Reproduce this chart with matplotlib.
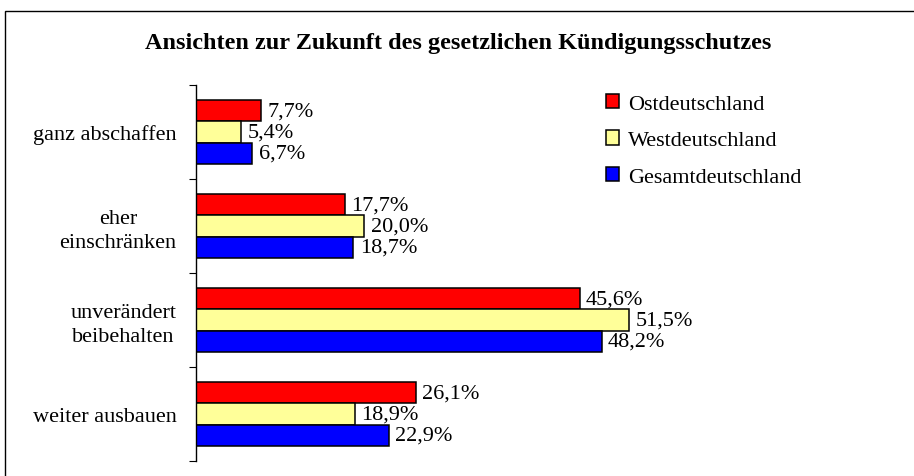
import matplotlib.pyplot as plt
import numpy as np
from matplotlib.patches import Rectangle

plt.rcParams['font.family'] = ['Liberation Serif', 'DejaVu Serif']

# Daten
kategorien = ["ganz abschaffen", "eher\neinschränken", "unverändert\nbeibehalten", "weiter ausbauen"]
ost = [7.7, 17.7, 45.6, 26.1]
west = [5.4, 20.0, 51.5, 18.9]
gesamt = [6.7, 18.7, 48.2, 22.9]
serien = ["Ostdeutschland", "Westdeutschland", "Gesamtdeutschland"]
farben = ["#FF0000", "#FFFF99", "#0000FF"]

fig = plt.figure(figsize=(9.14, 4.77), dpi=100)
ax = fig.add_axes([196/914, 1-462/477, 505/914, 376/477])

# Rahmen um die Grafik
fig.patches.append(Rectangle((5/914, -0.1), 2.0, 1.1 - 12/477, transform=fig.transFigure,
                             fill=False, edgecolor='black', linewidth=1.0, zorder=0))

y = np.arange(len(kategorien))
h = 0.226
for i, (werte, name, farbe) in enumerate(zip([ost, west, gesamt], serien, farben)):
    pos = y + (i - 1) * h
    bars = ax.barh(pos, werte, height=h, color=farbe, edgecolor='black', linewidth=1.1, label=name)
    for b, v in zip(bars, werte):
        ax.annotate(f"{v:.1f}%".replace('.', ','), (b.get_width(), b.get_y() + h/2),
                    xytext=(4.5, 0), textcoords='offset points', ha='left', va='center', fontsize=16)

ax.set_xlim(0, 60)
ax.set_ylim(3.5, -0.5)
for s in ['top', 'right', 'bottom']:
    ax.spines[s].set_visible(False)
ax.spines['left'].set_linewidth(1.0)
ax.set_xticks([])
ax.set_yticks(np.arange(-0.5, 4, 1))
ax.set_yticklabels([])
ax.tick_params(axis='y', which='major', length=5, direction='out')
ax.set_yticks(y, kategorien, minor=True)
ax.tick_params(axis='y', which='minor', length=0, pad=14, labelsize=16)
for t in ax.get_yticklabels(minor=True):
    t.set_multialignment('center')
    t.set_linespacing(1.3)

fig.text(458/914, 1-43/477, "Ansichten zur Zukunft des gesetzlichen Kündigungsschutzes",
         ha='center', va='center', fontsize=17.5, fontweight='bold')

fig.legend(loc='upper left', bbox_to_anchor=(597/914, 1-86/477), frameon=False, fontsize=16,
           handlelength=0.6, handleheight=0.6, handletextpad=0.4, labelspacing=0.75,
           borderaxespad=0)

fig.savefig("out.png", dpi=100)
